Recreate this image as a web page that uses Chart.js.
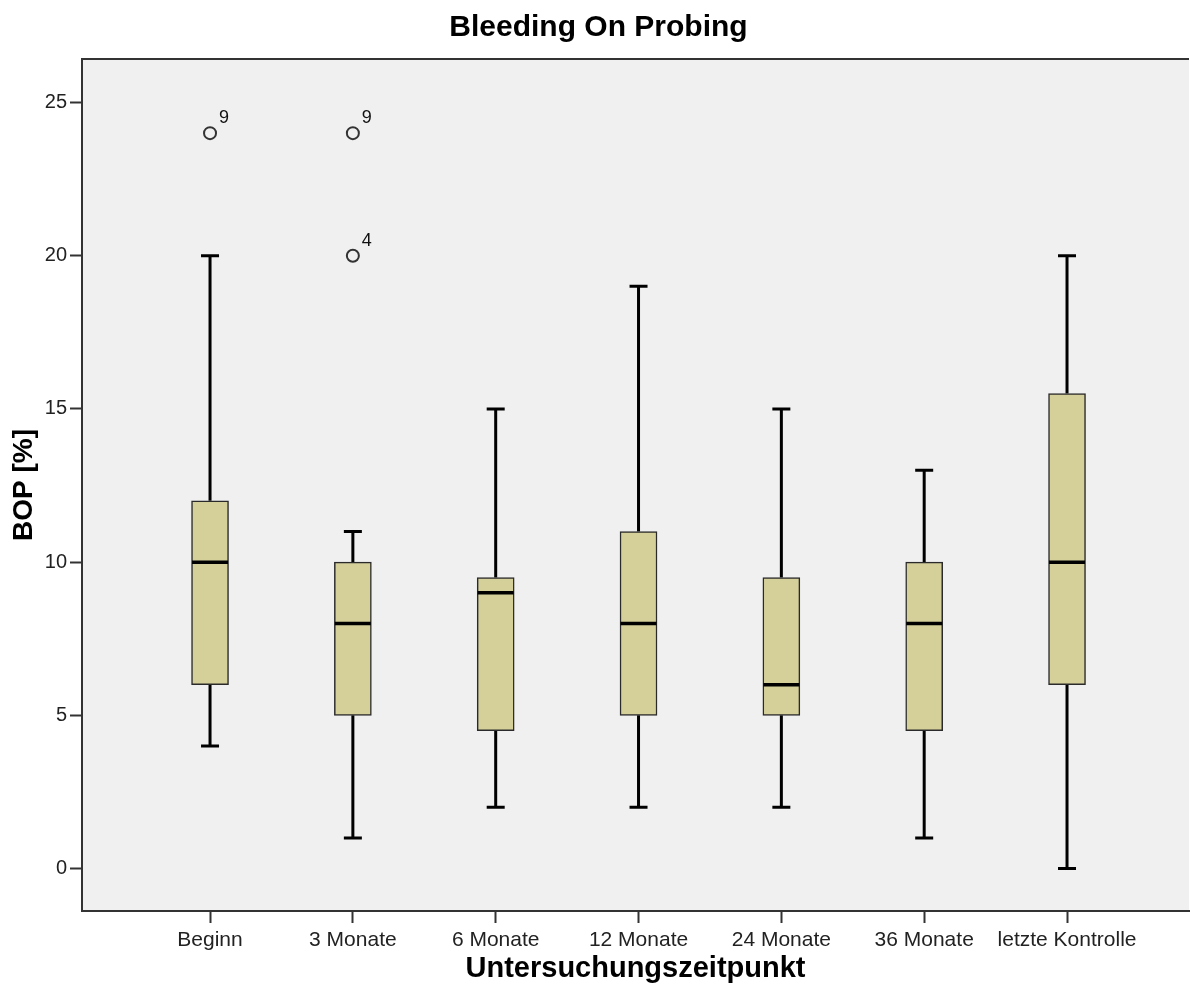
<!DOCTYPE html>
<html>
<head>
<meta charset="utf-8">
<script src="https://cdn.jsdelivr.net/npm/chart.js@4/dist/chart.umd.min.js"></script>
<style>
  html, body { margin: 0; padding: 0; background: #fff; overflow: hidden; }
  #wrap { width: 1190px; height: 986px; overflow: hidden; }
  canvas { display: block; }
</style>
</head>
<body>
<div id="wrap"><canvas id="bop" width="1197" height="986"></canvas></div>
<script>
// values
const categories = ['Beginn', '3 Monate', '6 Monate', '12 Monate', '24 Monate', '36 Monate', 'letzte Kontrolle'];
const whiskerLow = [4, 1, 2, 2, 2, 1, 0];
const quart1 = [6, 5, 4.5, 5, 5, 4.5, 6];
const medians = [10, 8, 9, 8, 6, 8, 10];
const quart3 = [12, 10, 9.5, 11, 9.5, 10, 15.5];
const whiskerHigh = [20, 11, 15, 19, 15, 13, 20];

const outlierCat = [0, 1, 1];
const outlierVal = [24, 24, 20];
const outlierId = ['9', '9', '4'];

const yTicks = [0, 5, 10, 15, 20, 25];

const FONT = '"Liberation Sans", Arial, sans-serif';

// background of plot area + top frame line
const plotBg = {
    id: 'plotBg',
    beforeDraw(chart) {
        const { ctx, chartArea: a } = chart;
        ctx.save();
        ctx.fillStyle = '#f0f0f0';
        ctx.fillRect(a.left, a.top, a.right - a.left, a.bottom - a.top);
        ctx.beginPath();
        ctx.moveTo(a.left, a.top);
        ctx.lineTo(a.right, a.top);
        ctx.lineWidth = 2;
        ctx.strokeStyle = '#333';
        ctx.stroke();
        ctx.restore();
    }
};

// whiskers behind the boxes, medians and outlier ids on top
const boxParts = {
    id: 'boxParts',
    beforeDatasetsDraw(chart) {
        const { ctx, scales: { x, y } } = chart;
        ctx.save();
        ctx.strokeStyle = '#000';
        ctx.lineWidth = 3;
        categories.forEach((c, i) => {
            const px = x.getPixelForValue(i + 1);
            const capHalf = 9;
            ctx.beginPath();
            ctx.moveTo(px, y.getPixelForValue(quart3[i]));
            ctx.lineTo(px, y.getPixelForValue(whiskerHigh[i]));
            ctx.moveTo(px, y.getPixelForValue(quart1[i]));
            ctx.lineTo(px, y.getPixelForValue(whiskerLow[i]));
            ctx.moveTo(px - capHalf, y.getPixelForValue(whiskerHigh[i]));
            ctx.lineTo(px + capHalf, y.getPixelForValue(whiskerHigh[i]));
            ctx.moveTo(px - capHalf, y.getPixelForValue(whiskerLow[i]));
            ctx.lineTo(px + capHalf, y.getPixelForValue(whiskerLow[i]));
            ctx.stroke();
        });
        ctx.restore();
    },
    afterDatasetsDraw(chart) {
        const { ctx, scales: { x, y } } = chart;
        ctx.save();
        ctx.strokeStyle = '#000';
        ctx.lineWidth = 3.5;
        categories.forEach((c, i) => {
            const px = x.getPixelForValue(i + 1);
            const py = y.getPixelForValue(medians[i]);
            ctx.beginPath();
            ctx.moveTo(px - 18, py);
            ctx.lineTo(px + 18, py);
            ctx.stroke();
        });
        ctx.fillStyle = '#111';
        ctx.font = '18px ' + FONT;
        ctx.textAlign = 'left';
        ctx.textBaseline = 'middle';
        outlierVal.forEach((v, k) => {
            const px = x.getPixelForValue(outlierCat[k] + 1);
            const py = y.getPixelForValue(v);
            ctx.fillText(outlierId[k], px + 9, py - 15);
        });
        ctx.restore();
    }
};

new Chart(document.getElementById('bop'), {
    type: 'bar',
    data: {
        datasets: [
            {
                type: 'scatter',
                label: 'Ausreißer',
                data: outlierVal.map((v, k) => ({ x: outlierCat[k] + 1, y: v })),
                pointStyle: 'circle',
                pointRadius: 6,
                pointBorderWidth: 2,
                pointBorderColor: '#333',
                pointBackgroundColor: 'rgba(0,0,0,0)',
                showLine: false
            },
            {
                type: 'bar',
                label: 'BOP',
                data: categories.map((c, i) => ({ x: i + 1, y: [quart1[i], quart3[i]] })),
                backgroundColor: '#d5d09a',
                borderColor: '#2a2a2a',
                borderWidth: 1.5,
                borderSkipped: false,
                barThickness: 37
            }
        ]
    },
    options: {
        responsive: false,
        animation: false,
        devicePixelRatio: 1,
        layout: { padding: { left: 0, right: 0, top: 0, bottom: 0 } },
        plugins: {
            legend: { display: false },
            tooltip: { enabled: false },
            title: {
                display: true,
                text: 'Bleeding On Probing',
                color: '#000',
                font: { family: FONT, size: 30, weight: 'bold' },
                padding: { top: 10, bottom: 13 }
            }
        },
        scales: {
            x: {
                type: 'linear',
                offset: false,
                min: 0.1036,
                max: 7.854,
                afterBuildTicks: (scale) => {
                    scale.ticks = categories.map((c, i) => ({ value: i + 1 }));
                },
                afterFit: (scale) => { scale.height = 75; },
                ticks: {
                    autoSkip: false,
                    maxRotation: 0,
                    padding: 5,
                    color: '#222',
                    font: { family: FONT, size: 21 },
                    callback: (v) => categories[v - 1] || ''
                },
                grid: {
                    offset: false,
                    drawOnChartArea: false,
                    drawTicks: true,
                    tickLength: 12,
                    tickWidth: 2,
                    tickColor: '#333'
                },
                border: { display: true, color: '#333', width: 2 },
                title: {
                    display: true,
                    text: 'Untersuchungszeitpunkt',
                    color: '#000',
                    font: { family: FONT, size: 29, weight: 'bold' },
                    padding: { top: 0, bottom: 0 }
                }
            },
            y: {
                type: 'linear',
                min: -1.385,
                max: 26.42,
                afterBuildTicks: (scale) => {
                    scale.ticks = yTicks.map(v => ({ value: v }));
                },
                afterFit: (scale) => { scale.width = 82; },
                ticks: {
                    padding: 3,
                    color: '#222',
                    font: { family: FONT, size: 20 }
                },
                grid: {
                    drawOnChartArea: false,
                    drawTicks: true,
                    tickLength: 12,
                    tickWidth: 2,
                    tickColor: '#333'
                },
                border: { display: true, color: '#333', width: 2 },
                title: {
                    display: true,
                    text: 'BOP [%]',
                    color: '#000',
                    font: { family: FONT, size: 28, weight: 'bold' },
                    padding: { top: 7, bottom: 0 }
                }
            }
        }
    },
    plugins: [plotBg, boxParts]
});
</script>
</body>
</html>
